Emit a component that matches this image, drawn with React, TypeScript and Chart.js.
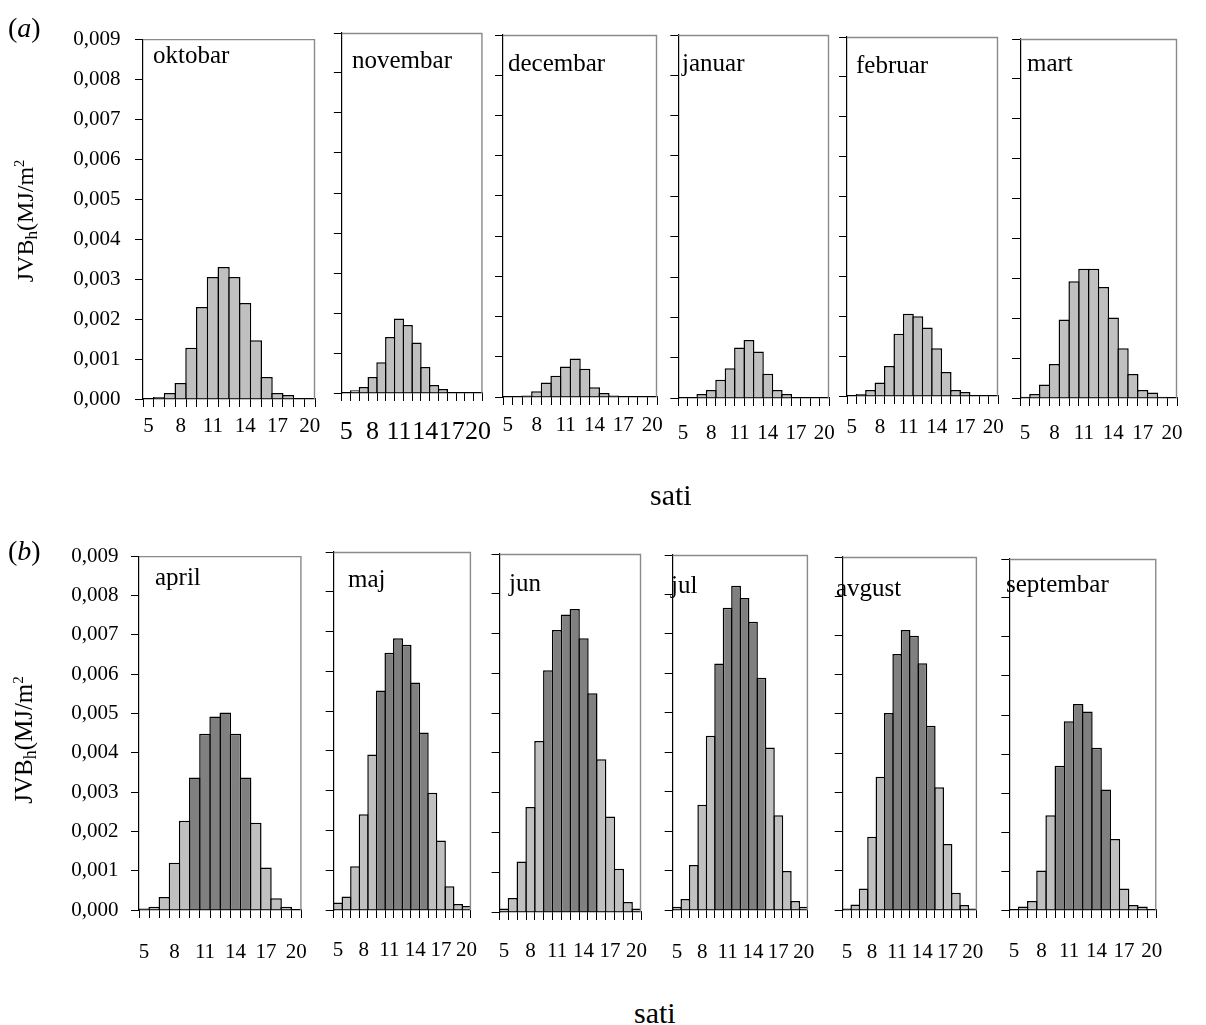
import React, { useEffect, useRef } from 'react';
import { Chart, registerables } from 'chart.js';

Chart.register(...registerables);

// ---------- data ----------
const HOURS = ['5', '6', '7', '8', '9', '10', '11', '12', '13', '14', '15', '16', '17', '18', '19', '20'];
const SHOWN_HOURS = ['5', '8', '11', '14', '17', '20'];
const DARK_HOURS = ['10', '11', '12', '13', '14', '15'];
const Y_MIN = 0;
const Y_MAX = 0.009;
const Y_STEP = 0.001;

const OKTOBAR = [0, 0.00005, 0.00015, 0.0004, 0.00128, 0.0023, 0.00305, 0.0033, 0.00305, 0.0024, 0.00147, 0.00055, 0.00015, 0.0001, 0, 0];
const NOVEMBAR = [0, 0.00007, 0.00015, 0.0004, 0.00077, 0.0014, 0.00186, 0.0017, 0.00126, 0.00065, 0.0002, 0.0001, 0, 0, 0, 0];
const DECEMBAR = [0, 0, 0.00004, 0.00014, 0.00036, 0.00053, 0.00076, 0.00096, 0.0007, 0.00024, 0.0001, 0.00004, 0, 0, 0, 0];
const JANUAR = [0, 0, 0.0001, 0.0002, 0.00045, 0.00074, 0.00125, 0.00144, 0.00115, 0.0006, 0.0002, 0.0001, 0, 0, 0, 0];
const FEBRUAR = [0, 0.00005, 0.00015, 0.00034, 0.00075, 0.00156, 0.00206, 0.002, 0.00172, 0.0012, 0.0006, 0.00015, 0.0001, 0, 0, 0];
const MART = [0.00003, 0.0001, 0.00034, 0.00085, 0.00197, 0.00293, 0.00324, 0.00324, 0.00278, 0.00202, 0.00125, 0.0006, 0.0002, 0.00014, 0.00003, 0];

const APRIL = [0.00004, 0.00008, 0.00033, 0.0012, 0.00227, 0.00337, 0.00448, 0.00492, 0.00502, 0.00448, 0.00337, 0.00222, 0.00108, 0.0003, 0.00008, 0];
const MAJ = [0.00019, 0.00034, 0.0011, 0.00241, 0.00391, 0.00552, 0.00647, 0.00683, 0.00667, 0.00572, 0.00446, 0.00295, 0.00175, 0.0006, 0.00015, 0.0001];
const JUN = [0.00009, 0.00035, 0.00127, 0.00264, 0.0043, 0.00608, 0.00709, 0.00748, 0.00762, 0.00688, 0.0055, 0.00384, 0.0024, 0.00109, 0.00025, 0.00009];
const JUL = [0.00008, 0.00028, 0.00114, 0.00267, 0.00442, 0.00625, 0.00766, 0.00822, 0.00791, 0.00731, 0.00589, 0.00412, 0.0024, 0.00099, 0.00023, 0.00008];
const AVGUST = [0.00004, 0.00014, 0.00055, 0.00187, 0.0034, 0.00502, 0.00653, 0.00714, 0.00699, 0.00629, 0.0047, 0.00313, 0.00168, 0.00044, 0.00013, 0.00004];
const SEPTEMBAR = [0, 0.00009, 0.00023, 0.00101, 0.00243, 0.0037, 0.00484, 0.00528, 0.00509, 0.00416, 0.00309, 0.00182, 0.00055, 0.00013, 0.00009, 0];

const MONTHS_A = ['oktobar', 'novembar', 'decembar', 'januar', 'februar', 'mart'];
const VALUES_A = [OKTOBAR, NOVEMBAR, DECEMBAR, JANUAR, FEBRUAR, MART];
const MONTHS_B = ['april', 'maj', 'jun', 'jul', 'avgust', 'septembar'];
const VALUES_B = [APRIL, MAJ, JUN, JUL, AVGUST, SEPTEMBAR];

const ROW_LABEL_A = 'a';
const ROW_LABEL_B = 'b';
const X_TITLE = 'sati';

// ---------- styles / layout ----------
const FONT = "'Liberation Serif', 'Times New Roman', serif";
const LIGHT = '#c0c0c0';
const DARK = '#808080';
const FRAME = '#8a8a8a';
const BAR_BORDER = 1.5;

// chart area in page pixels, title position, x-label offset below axis, x-label font, y-label padding
const LAYOUT_A = [
  { l: 143, t: 32, r: 315, b: 399, tx: 153, ty: 63, lo: 27, xf: 21, yp: 14.5 },
  { l: 336, t: 33, r: 483, b: 393, tx: 352, ty: 68, lo: 39, xf: 26, yp: 0 },
  { l: 503, t: 35, r: 657, b: 397, tx: 508, ty: 71, lo: 28, xf: 21, yp: 0 },
  { l: 675, t: 35, r: 829, b: 398, tx: 682, ty: 71, lo: 35, xf: 21, yp: 0 },
  { l: 847, t: 37, r: 998, b: 396, tx: 856, ty: 73, lo: 31, xf: 21, yp: 0 },
  { l: 1017, t: 39, r: 1177, b: 398, tx: 1027, ty: 71, lo: 35, xf: 21, yp: 0 },
];
const LAYOUT_B = [
  { l: 139, t: 551, r: 305, b: 910, tx: 155, ty: 585, lo: 42, xf: 21, yp: 12.5 },
  { l: 325, t: 552, r: 473, b: 910, tx: 348, ty: 587, lo: 40, xf: 21, yp: 0 },
  { l: 492, t: 554, r: 642, b: 912, tx: 509, ty: 591, lo: 39, xf: 21, yp: 0 },
  { l: 662, t: 555, r: 812, b: 910, tx: 671, ty: 593, lo: 42, xf: 21, yp: 0 },
  { l: 832, t: 557, r: 981, b: 910, tx: 836, ty: 596, lo: 42, xf: 21, yp: 0 },
  { l: 1000, t: 559, r: 1159, b: 910, tx: 1006, ty: 592, lo: 41, xf: 21, yp: 0 },
];

type Geo = { l: number; t: number; r: number; b: number; tx: number; ty: number; lo: number; xf: number; yp: number };

const TM = 20;
const RM = 24;
const BM = 70;

function Panel(props: { title: string; values: number[]; shade: boolean; showY: boolean; geo: Geo }) {
  const { title, values, shade, showY, geo } = props;
  const ref = useRef<HTMLCanvasElement | null>(null);
  const LM = showY ? 110 : 12;
  const w = geo.r - geo.l;
  const h = geo.b - geo.t;
  const cw = LM + w + RM;
  const ch = TM + h + BM;
  const canvasLeft = geo.l - LM;
  const canvasTop = geo.t - TM;

  useEffect(() => {
    if (!ref.current) return;
    const catW = w / HOURS.length;
    const framePlugin = {
      id: 'frame',
      afterDraw(chart: any) {
        const { ctx, chartArea } = chart;
        ctx.save();
        ctx.strokeStyle = FRAME;
        ctx.lineWidth = 1.4;
        ctx.beginPath();
        ctx.moveTo(chartArea.left, chartArea.top + 0.5);
        ctx.lineTo(chartArea.right - 0.5, chartArea.top + 0.5);
        ctx.lineTo(chartArea.right - 0.5, chartArea.bottom);
        ctx.stroke();
        ctx.fillStyle = '#000';
        ctx.font = `25px ${FONT}`;
        ctx.textBaseline = 'alphabetic';
        ctx.textAlign = 'left';
        ctx.fillText(title, geo.tx - canvasLeft, geo.ty - canvasTop);
        ctx.restore();
      },
    };
    const chart = new Chart(ref.current, {
      type: 'bar',
      data: {
        labels: HOURS,
        datasets: [
          {
            data: values,
            backgroundColor: HOURS.map((hr) => (shade && DARK_HOURS.includes(hr) ? DARK : LIGHT)),
            borderColor: '#000',
            borderWidth: BAR_BORDER,
            borderSkipped: 'start',
            barPercentage: 1 + BAR_BORDER / catW,
            categoryPercentage: 1,
            inflateAmount: 0,
          } as any,
        ],
      },
      options: {
        animation: false,
        responsive: false,
        maintainAspectRatio: false,
        events: [],
        layout: { padding: { top: TM, right: RM, left: 0, bottom: 0 } },
        plugins: {
          legend: { display: false },
          tooltip: { enabled: false },
          title: { display: false },
        },
        scales: {
          x: {
            type: 'category',
            offset: true,
            grid: {
              offset: true,
              drawOnChartArea: false,
              drawTicks: true,
              tickLength: 8,
              color: '#000',
              lineWidth: 1,
            },
            border: { display: true, color: '#000', width: 1.2 },
            ticks: {
              autoSkip: false,
              maxRotation: 0,
              minRotation: 0,
              color: '#000',
              padding: geo.lo - 8 - 0.6 * geo.xf,
              font: { family: FONT, size: geo.xf },
              callback: (_v: any, i: number) => (SHOWN_HOURS.includes(HOURS[i]) ? HOURS[i] : ''),
            },
            afterFit: (s: any) => {
              s.height = BM;
            },
          },
          y: {
            min: Y_MIN,
            max: Y_MAX,
            grid: {
              drawOnChartArea: false,
              drawTicks: true,
              tickLength: 8,
              color: '#000',
              lineWidth: 1,
            },
            border: { display: true, color: '#000', width: 1.2 },
            ticks: {
              stepSize: Y_STEP,
              display: showY,
              color: '#000',
              padding: geo.yp,
              font: { family: FONT, size: 21 },
              callback: (v: any) => Number(v).toFixed(3).replace('.', ','),
            },
            afterFit: (s: any) => {
              s.width = LM;
            },
          },
        },
      } as any,
      plugins: [framePlugin],
    });
    return () => chart.destroy();
  }, []);

  return (
    <canvas
      ref={ref}
      width={cw}
      height={ch}
      style={{ position: 'absolute', left: canvasLeft, top: canvasTop, width: cw, height: ch }}
    />
  );
}

function Text(props: { x: number; baseline: number; size: number; children: any }) {
  const { x, baseline, size, children } = props;
  return (
    <div
      style={{
        position: 'absolute',
        left: x,
        top: baseline - 0.8375 * size,
        fontFamily: FONT,
        fontSize: size,
        lineHeight: 1,
        whiteSpace: 'nowrap',
        color: '#000',
      }}
    >
      {children}
    </div>
  );
}

function YTitle(props: { cx: number; cy: number; size: number }) {
  const { cx, cy, size } = props;
  return (
    <div style={{ position: 'absolute', left: cx, top: cy, width: 0, height: 0 }}>
      <div
        style={{
          position: 'absolute',
          left: 0,
          top: 0,
          transform: 'translate(-50%, -50%) rotate(-90deg)',
          fontFamily: FONT,
          fontSize: size,
          lineHeight: 1,
          whiteSpace: 'nowrap',
          color: '#000',
        }}
      >
        JVB<sub style={{ fontSize: '0.72em', verticalAlign: '-0.25em' }}>h</sub>(MJ/m
        <sup style={{ fontSize: '0.6em', verticalAlign: '0.6em' }}>2</sup>
      </div>
    </div>
  );
}

export default function App() {
  return (
    <div style={{ position: 'absolute', left: 0, top: 0, width: 1206, height: 1025, background: '#fff', overflow: 'hidden' }}>
      {MONTHS_A.map((m, i) => (
        <Panel key={m} title={m} values={VALUES_A[i]} shade={false} showY={i === 0} geo={LAYOUT_A[i]} />
      ))}
      {MONTHS_B.map((m, i) => (
        <Panel key={m} title={m} values={VALUES_B[i]} shade={true} showY={i === 0} geo={LAYOUT_B[i]} />
      ))}
      <Text x={8} baseline={37} size={28}>
        (<i>{ROW_LABEL_A}</i>)
      </Text>
      <Text x={8} baseline={560} size={28}>
        (<i>{ROW_LABEL_B}</i>)
      </Text>
      <YTitle cx={26} cy={221} size={24} />
      <YTitle cx={25} cy={740} size={25} />
      <Text x={650} baseline={505} size={30}>
        {X_TITLE}
      </Text>
      <Text x={634} baseline={1023} size={30}>
        {X_TITLE}
      </Text>
    </div>
  );
}
